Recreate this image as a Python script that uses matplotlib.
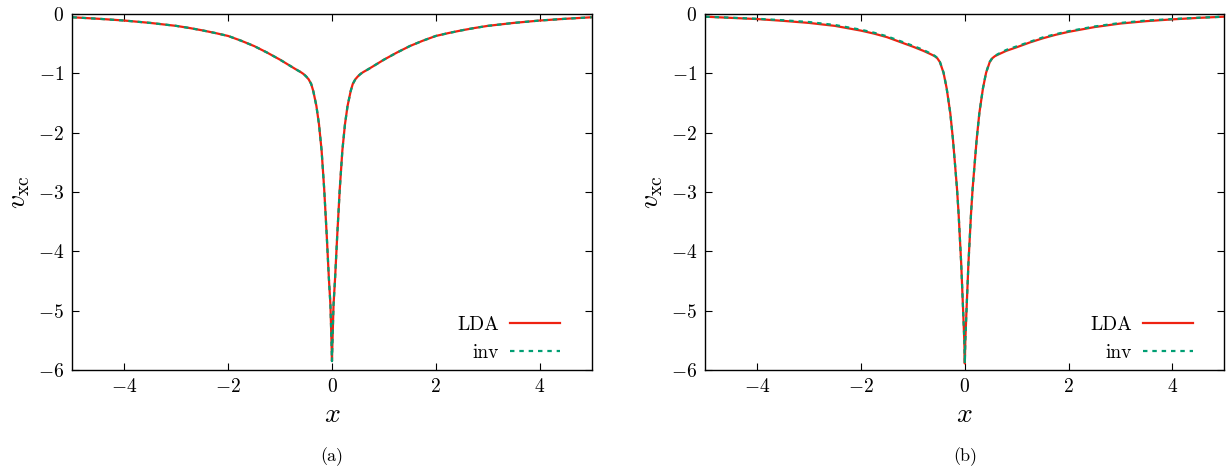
import numpy as np
import matplotlib
matplotlib.use("Agg")
import matplotlib.pyplot as plt

plt.rcParams["font.family"] = "serif"
plt.rcParams["font.serif"] = ["cmr10", "DejaVu Serif"]
plt.rcParams["mathtext.fontset"] = "cm"
plt.rcParams["axes.formatter.use_mathtext"] = True

#=== Daten (a) ===
x_a = [-5, -4.5, -4, -3.5, -3, -2.75, -2.5, -2.25, -2, -1.75, -1.5, -1.25, -1.0, -0.85, -0.7, -0.6, -0.55,
       -0.5, -0.45, -0.4, -0.36, -0.3, -0.25, -0.2, -0.15, -0.1, -0.06, -0.03, -0.01, 0,
       0.01, 0.03, 0.06, 0.1, 0.15, 0.2, 0.25, 0.3, 0.36, 0.4, 0.45, 0.5,
       0.55, 0.6, 0.7, 0.85, 1.0, 1.25, 1.5, 1.75, 2, 2.25, 2.5, 2.75, 3, 3.5, 4, 4.5, 5]
lda_a = [-0.055, -0.08, -0.11, -0.15, -0.2, -0.235, -0.275, -0.32, -0.37, -0.45, -0.54, -0.65, -0.77, -0.85, -0.93, -0.98, -1.01,
         -1.05, -1.1, -1.18, -1.3, -1.55, -1.86, -2.3, -2.95, -3.75, -4.45, -4.9, -5.5, -5.85,
         -5.5, -4.9, -4.45, -3.75, -2.95, -2.3, -1.86, -1.55, -1.3, -1.18, -1.1, -1.05,
         -1.01, -0.98, -0.93, -0.85, -0.77, -0.65, -0.54, -0.45, -0.37, -0.32, -0.275, -0.235, -0.2, -0.15, -0.11, -0.08, -0.055]
inv_a = [-0.055, -0.08, -0.11, -0.15, -0.2, -0.235, -0.275, -0.32, -0.37, -0.45, -0.54, -0.65, -0.77, -0.85, -0.93, -0.98, -1.01,
         -1.05, -1.1, -1.18, -1.3, -1.55, -1.86, -2.3, -2.95, -3.75, -4.45, -4.9, -5.5, -5.85,
         -5.5, -4.9, -4.45, -3.75, -2.95, -2.3, -1.86, -1.55, -1.3, -1.18, -1.1, -1.05,
         -1.01, -0.98, -0.93, -0.85, -0.77, -0.65, -0.54, -0.45, -0.37, -0.32, -0.275, -0.235, -0.2, -0.15, -0.11, -0.08, -0.055]

#=== Daten (b) ===
x_b = [-5, -4.5, -4, -3.5, -3, -2.5, -2, -1.75, -1.5, -1.25, -1.0, -0.8, -0.65, -0.58, -0.53,
       -0.48, -0.41, -0.35, -0.28, -0.23, -0.19, -0.15, -0.12, -0.07, -0.03, -0.01, 0,
       0.01, 0.03, 0.07, 0.12, 0.15, 0.19, 0.23, 0.28, 0.35, 0.41, 0.48,
       0.53, 0.58, 0.65, 0.8, 1.0, 1.25, 1.5, 1.75, 2, 2.5, 3, 3.5, 4, 4.5, 5]
lda_b = [-0.045, -0.065, -0.085, -0.115, -0.15, -0.2, -0.28, -0.33, -0.39, -0.47, -0.55, -0.62, -0.68, -0.71, -0.745,
         -0.81, -0.99, -1.25, -1.67, -2.1, -2.52, -2.95, -3.36, -4.2, -5.05, -5.5, -5.89,
         -5.5, -5.05, -4.2, -3.36, -2.95, -2.52, -2.1, -1.67, -1.25, -0.99, -0.81,
         -0.745, -0.71, -0.68, -0.62, -0.56, -0.48, -0.41, -0.35, -0.3, -0.22, -0.16, -0.12, -0.09, -0.065, -0.045]
inv_b = [-0.045, -0.062, -0.08, -0.105, -0.135, -0.185, -0.265, -0.315, -0.375, -0.455, -0.535, -0.605, -0.67, -0.705, -0.74,
         -0.805, -0.985, -1.25, -1.67, -2.1, -2.52, -2.95, -3.36, -4.2, -5.05, -5.5, -5.89,
         -5.5, -5.05, -4.2, -3.36, -2.95, -2.52, -2.1, -1.67, -1.25, -0.985, -0.805,
         -0.74, -0.705, -0.67, -0.605, -0.545, -0.47, -0.395, -0.34, -0.29, -0.21, -0.15, -0.11, -0.085, -0.062, -0.045]

panels = [(x_a, lda_a, inv_a, "(a)", 0.0589), (x_b, lda_b, inv_b, "(b)", 0.5734)]

fig = plt.figure(figsize=(12.3, 4.72), dpi=100)

for xs, lda, inv, name, left in panels:
    ax = fig.add_axes([left, 0.2161, 0.422, 0.7542])
    ax.plot(xs, lda, color="#ee2211", lw=1.6, label="LDA")
    ax.plot(xs, inv, color="#009e73", lw=1.6, ls=(0, (2, 2.2)), label="inv")
    ax.set_xlim(-5, 5)
    ax.set_ylim(-6, 0)
    ax.set_xticks([-4, -2, 0, 2, 4])
    ax.set_yticks([-6, -5, -4, -3, -2, -1, 0])
    ax.tick_params(direction="in", top=True, right=True, length=5, width=0.8, labelsize=14, pad=6)
    for s in ax.spines.values():
        s.set_linewidth(1.0)
    ax.set_xlabel("$x$", fontsize=20, labelpad=4)
    ax.set_ylabel(r"$v_{\mathrm{xc}}$", fontsize=20, labelpad=4)
    ax.legend(loc="lower right", frameon=False, markerfirst=False, fontsize=14,
              handlelength=2.6, labelspacing=0.55, handletextpad=0.55,
              borderaxespad=0, bbox_to_anchor=(0.955, 0.0))
    fig.text(left + 0.211, 1 - 457 / 472, name, ha="center", va="center", fontsize=13)

plt.savefig("out.png", dpi=100)
